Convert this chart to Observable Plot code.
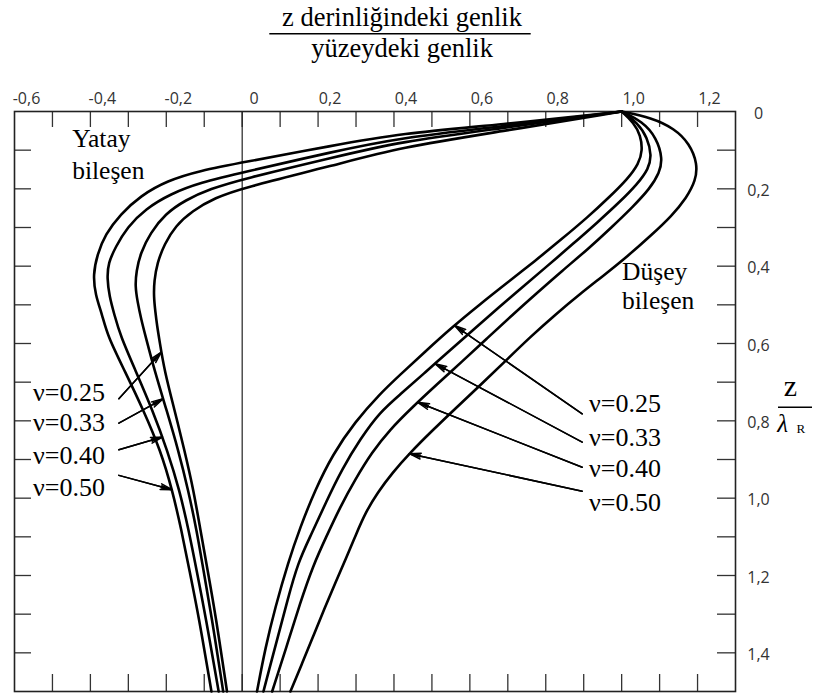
<!DOCTYPE html>
<html><head><meta charset="utf-8">
<script src="https://cdn.jsdelivr.net/npm/d3@7"></script>
<script src="https://cdn.jsdelivr.net/npm/@observablehq/plot@0.6"></script>
<style>body{margin:0;background:#fff}</style>
</head><body><div id="chart"></div>
<script>
// Poisson ratios
const poisson = ["0.25", "0.33", "0.40", "0.50"];

// Horizontal component (Yatay bileşen): [amplitude ratio, z/λR]
const yatay025 = [[1.000,0.000],[0.679,0.052],[0.416,0.093],[0.239,0.140],[0.000,0.198],[-0.071,0.223],[-0.132,0.257],[-0.176,0.296],[-0.205,0.343],[-0.224,0.392],[-0.232,0.439],[-0.233,0.478],[-0.229,0.517],[-0.224,0.556],[-0.218,0.592],[-0.205,0.670],[-0.178,0.773],[-0.152,0.877],[-0.128,0.980],[-0.110,1.083],[-0.091,1.187],[-0.070,1.303],[-0.040,1.500]];
const yatay033 = [[1.000,0.000],[0.679,0.044],[0.416,0.078],[0.239,0.119],[0.000,0.175],[-0.084,0.200],[-0.150,0.229],[-0.203,0.265],[-0.242,0.314],[-0.268,0.366],[-0.279,0.413],[-0.282,0.452],[-0.276,0.491],[-0.266,0.538],[-0.255,0.580],[-0.231,0.670],[-0.199,0.773],[-0.168,0.877],[-0.142,0.980],[-0.120,1.083],[-0.102,1.187],[-0.081,1.303],[-0.050,1.500]];
const yatay040 = [[1.000,0.000],[0.679,0.039],[0.416,0.068],[0.239,0.104],[0.000,0.158],[-0.111,0.184],[-0.189,0.213],[-0.255,0.252],[-0.303,0.299],[-0.334,0.351],[-0.353,0.392],[-0.356,0.431],[-0.350,0.478],[-0.337,0.525],[-0.321,0.580],[-0.281,0.670],[-0.236,0.773],[-0.197,0.877],[-0.165,0.980],[-0.141,1.083],[-0.120,1.187],[-0.097,1.303],[-0.062,1.500]];
const yatay050 = [[1.000,0.000],[0.679,0.034],[0.416,0.057],[0.239,0.088],[0.000,0.132],[-0.111,0.153],[-0.198,0.179],[-0.268,0.218],[-0.321,0.266],[-0.361,0.318],[-0.382,0.370],[-0.393,0.422],[-0.387,0.474],[-0.369,0.525],[-0.355,0.580],[-0.310,0.670],[-0.260,0.773],[-0.215,0.877],[-0.184,0.980],[-0.160,1.083],[-0.139,1.187],[-0.115,1.303],[-0.081,1.500]];

// Vertical component (Düşey bileşen): [amplitude ratio, z/λR]
const dusey025 = [[1.000,0.000],[1.032,0.029],[1.050,0.062],[1.055,0.101],[1.045,0.135],[1.016,0.174],[0.968,0.221],[0.911,0.273],[0.842,0.330],[0.771,0.387],[0.697,0.444],[0.626,0.499],[0.553,0.558],[0.482,0.621],[0.416,0.681],[0.363,0.730],[0.297,0.803],[0.239,0.886],[0.192,0.979],[0.153,1.075],[0.121,1.166],[0.087,1.283],[0.061,1.387],[0.039,1.500]];
const dusey033 = [[1.000,0.000],[1.042,0.029],[1.068,0.068],[1.079,0.114],[1.071,0.148],[1.042,0.187],[0.995,0.234],[0.937,0.286],[0.871,0.343],[0.800,0.403],[0.732,0.460],[0.679,0.504],[0.613,0.561],[0.547,0.618],[0.482,0.675],[0.416,0.732],[0.363,0.777],[0.311,0.847],[0.263,0.925],[0.221,1.010],[0.182,1.094],[0.147,1.166],[0.119,1.265],[0.093,1.363],[0.072,1.440],[0.056,1.500]];
const dusey040 = [[1.000,0.000],[1.055,0.026],[1.092,0.068],[1.108,0.122],[1.100,0.158],[1.074,0.200],[1.029,0.247],[0.974,0.299],[0.911,0.356],[0.842,0.413],[0.776,0.470],[0.711,0.527],[0.645,0.587],[0.579,0.647],[0.513,0.706],[0.447,0.766],[0.389,0.823],[0.342,0.881],[0.297,0.953],[0.258,1.023],[0.221,1.101],[0.187,1.174],[0.153,1.270],[0.116,1.387],[0.079,1.500]];
const dusey050 = [[1.000,0.000],[1.079,0.016],[1.139,0.044],[1.179,0.083],[1.200,0.135],[1.195,0.179],[1.171,0.223],[1.132,0.270],[1.079,0.319],[1.016,0.374],[0.950,0.426],[0.889,0.473],[0.829,0.522],[0.758,0.584],[0.692,0.647],[0.626,0.709],[0.562,0.768],[0.499,0.827],[0.443,0.882],[0.396,0.934],[0.357,0.985],[0.325,1.037],[0.299,1.096],[0.275,1.153],[0.246,1.218],[0.217,1.285],[0.188,1.355],[0.159,1.425],[0.127,1.500]];

// Axis ticks and labels
const xTicks = [-0.5,-0.4,-0.3,-0.2,-0.1,0,0.1,0.2,0.3,0.4,0.5,0.6,0.7,0.8,0.9,1.0,1.1,1.2];
const xTickLabels = [-0.6,-0.4,-0.2,0,0.2,0.4,0.6,0.8,1.0,1.2];
const yTicks = [0.1,0.2,0.3,0.4,0.5,0.6,0.7,0.8,0.9,1.0,1.1,1.2,1.3,1.4];
const yTickLabels = [0,0.2,0.4,0.6,0.8,1.0,1.2,1.4];

// Annotation anchors (data units: amplitude ratio, z/λR); label z = baseline
const leftLabelX = -0.551, leftArrowX = -0.325;
const leftLabelZ = [0.748, 0.825, 0.912, 0.994];
const leftArrowZ = [0.743, 0.806, 0.875, 0.941];
const leftTipZ   = [0.622, 0.743, 0.842, 0.978];
const rightLabelX = 0.914, rightArrowX = 0.896;
const rightLabelZ = [0.778, 0.864, 0.946, 1.032];
const rightArrowZ = [0.782, 0.855, 0.920, 0.982];
const rightTipZ   = [0.553, 0.652, 0.752, 0.885];

const yatayCurves = [yatay025, yatay033, yatay040, yatay050];
const duseyCurves = [dusey025, dusey033, dusey040, dusey050];

const rows = [];
poisson.forEach((nu, i) => {
  yatayCurves[i].forEach(([a, z]) => rows.push({key: "Y" + nu, amp: a, z}));
  duseyCurves[i].forEach(([a, z]) => rows.push({key: "D" + nu, amp: a, z}));
});

function ampAt(curve, zq) {
  for (let i = 0; i < curve.length - 1; i++) {
    const [a0, z0] = curve[i], [a1, z1] = curve[i + 1];
    if (zq >= z0 && zq <= z1) return a0 + (a1 - a0) * (zq - z0) / (z1 - z0);
  }
  return curve[curve.length - 1][0];
}

const arrows = poisson.map((nu, i) => ({x1: leftArrowX, y1: leftArrowZ[i], x2: ampAt(yatayCurves[i], leftTipZ[i]), y2: leftTipZ[i]}))
  .concat(poisson.map((nu, i) => ({x1: rightArrowX, y1: rightArrowZ[i], x2: ampAt(duseyCurves[i], rightTipZ[i]), y2: rightTipZ[i]})));

const fmt = d => d === 0 ? "0" : d.toFixed(1).replace(".", ",");
const serif = "Liberation Serif, DejaVu Serif, serif";
const sans = "Open Sans, DejaVu Sans, sans-serif";

const W = 813, H = 695, mT = 111, mL = 14, mR = 78, mB = 4;
const fw = W - mL - mR, fh = H - mT - mB;
const txt = {fontFamily: serif, fill: "#000", lineAnchor: "bottom"};

const chart = Plot.plot({
  width: W, height: H,
  marginTop: mT, marginLeft: mL, marginRight: mR, marginBottom: mB,
  x: {domain: [-0.6, 1.3], axis: null},
  y: {domain: [0, 1.5], reverse: true, axis: null},
  style: {background: "#fff", overflow: "visible"},
  marks: [
    // ticks inside frame
    Plot.tickX(xTicks, {x: d => d, insetBottom: fh - 16, stroke: "#333", strokeWidth: 1.3}),
    Plot.tickX(xTicks, {x: d => d, insetTop: fh - 17, stroke: "#333", strokeWidth: 1.3}),
    Plot.tickY(yTicks, {y: d => d, insetRight: fw - 17, stroke: "#333", strokeWidth: 1.3}),
    Plot.tickY(yTicks, {y: d => d, insetLeft: fw - 18, stroke: "#333", strokeWidth: 1.3}),
    Plot.ruleX([0], {stroke: "#222", strokeWidth: 1.2}),
    Plot.frame({stroke: "#222", strokeWidth: 1.6}),
    // tick labels
    Plot.text(xTickLabels, {x: d => d, frameAnchor: "top", lineAnchor: "bottom", dy: -7.7, dx: 12, text: fmt, fontSize: 16, fontFamily: sans, fill: "#333"}),
    Plot.text(yTickLabels, {y: d => d, frameAnchor: "right", textAnchor: "middle", dx: 23, dy: 2, text: fmt, fontSize: 16, fontFamily: sans, fill: "#333"}),
    // curves
    Plot.line(rows, {x: "amp", y: "z", z: "key", curve: "basis", stroke: "#000", strokeWidth: 2.6}),
    // arrows (two head angles to give a filled look)
    Plot.arrow(arrows, {x1: "x1", y1: "y1", x2: "x2", y2: "y2", stroke: "#000", strokeWidth: 1.5, headLength: 12, headAngle: 28}),
    Plot.arrow(arrows, {x1: "x1", y1: "y1", x2: "x2", y2: "y2", stroke: "#000", strokeWidth: 1.5, headLength: 11, headAngle: 12}),
    // ν labels
    Plot.text(poisson, {x: leftLabelX, y: (d, i) => leftLabelZ[i], text: d => "ν=" + d, textAnchor: "start", fontSize: 26, ...txt}),
    Plot.text(poisson, {x: rightLabelX, y: (d, i) => rightLabelZ[i], text: d => "ν=" + d, textAnchor: "start", fontSize: 26, ...txt}),
    // component labels
    Plot.text(["Yatay", "bileşen"], {x: -0.448, y: (d, i) => [0.092, 0.174][i], text: d => d, textAnchor: "start", fontSize: 25.5, ...txt}),
    Plot.text(["Düşey", "bileşen"], {x: 1.001, y: (d, i) => [0.437, 0.510][i], text: d => d, textAnchor: "start", fontSize: 25.5, ...txt}),
    // title fraction
    Plot.text(["z derinliğindeki genlik"], {frameAnchor: "top", dx: 27, dy: -86, text: d => d, fontSize: 26.5, ...txt}),
    Plot.ruleY([0], {dy: -77.7, insetLeft: 255.3, insetRight: 204.3, stroke: "#000", strokeWidth: 1.6}),
    Plot.text(["yüzeydeki genlik"], {frameAnchor: "top", dx: 27, dy: -54.3, text: d => d, fontSize: 26.5, ...txt}),
    // right axis label z / λR
    Plot.text(["z"], {frameAnchor: "top-right", dx: 61.7, dy: 284, text: d => d, fontSize: 30, ...txt}),
    Plot.ruleY([0], {dy: 295.7, insetLeft: fw + 43, insetRight: -77, stroke: "#000", strokeWidth: 1.4}),
    Plot.text(["λ"], {frameAnchor: "top-right", dx: 52.5, dy: 320.7, text: d => d, fontSize: 25, fontStyle: "italic", ...txt}),
    Plot.text(["R"], {frameAnchor: "top-right", dx: 61, dy: 321.5, textAnchor: "start", text: d => d, fontSize: 13, ...txt})
  ]
});
document.getElementById("chart").appendChild(chart);
</script>
</body></html>
